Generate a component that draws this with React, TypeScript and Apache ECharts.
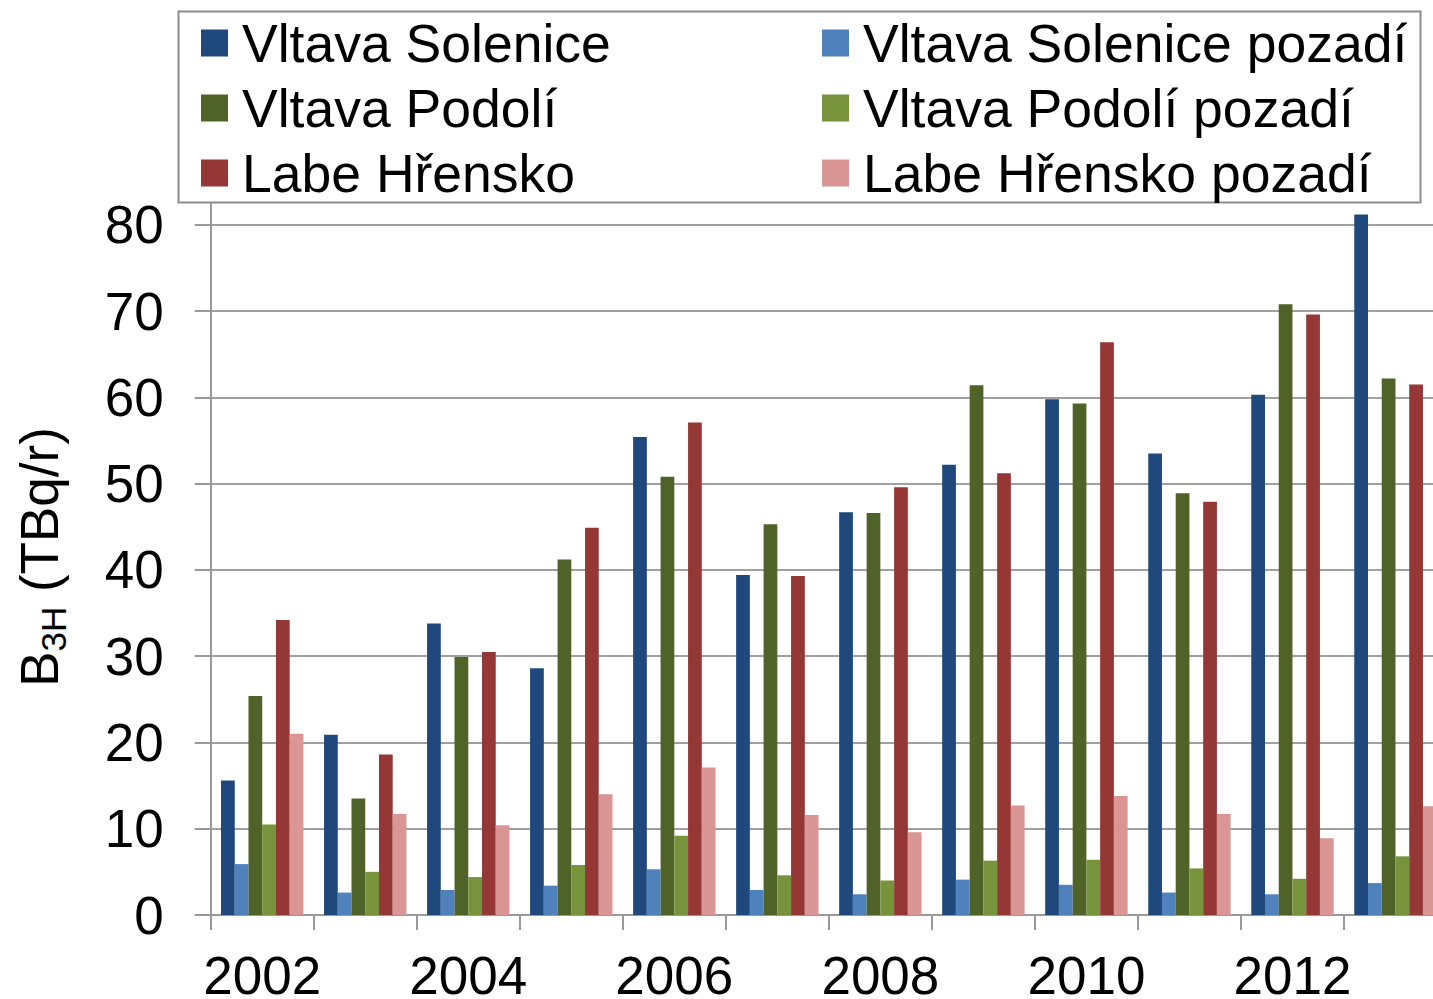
import React, { useEffect, useRef } from 'react';
import * as echarts from 'echarts';

const years = ['2002', '2003', '2004', '2005', '2006', '2007', '2008', '2009', '2010', '2011', '2012', '2013'];
const seriesNames = [
  'Vltava Solenice',
  'Vltava Solenice pozadí',
  'Vltava Podolí',
  'Vltava Podolí pozadí',
  'Labe Hřensko',
  'Labe Hřensko pozadí',
];
const solenice = [15.6, 20.9, 33.8, 28.6, 55.4, 39.4, 46.7, 52.2, 59.8, 53.5, 60.3, 81.2];
const solenicePozadi = [5.9, 2.6, 2.9, 3.4, 5.3, 2.9, 2.4, 4.1, 3.5, 2.6, 2.4, 3.7];
const podoli = [25.4, 13.5, 29.9, 41.2, 50.8, 45.3, 46.6, 61.4, 59.3, 48.9, 70.8, 62.2];
const podoliPozadi = [10.5, 5.0, 4.4, 5.8, 9.2, 4.6, 4.0, 6.3, 6.4, 5.4, 4.2, 6.8];
const hrensko = [34.2, 18.6, 30.5, 44.9, 57.1, 39.3, 49.6, 51.2, 66.4, 47.9, 69.6, 61.5];
const hrenskoPozadi = [21.0, 11.7, 10.4, 14.0, 17.1, 11.6, 9.6, 12.7, 13.8, 11.7, 8.9, 12.6];
const colors = ['#1F497D', '#4F81BD', '#4F6228', '#77933C', '#953735', '#D99694'];

export default function App() {
  const ref = useRef<HTMLDivElement>(null);
  useEffect(() => {
    const chart = echarts.init(ref.current!, null, { renderer: 'svg' });
    const font = "'Liberation Sans', Arial, sans-serif";
    const data = [solenice, solenicePozadi, podoli, podoliPozadi, hrensko, hrenskoPozadi];
    const legendCommon = {
      orient: 'vertical',
      icon: 'rect',
      itemWidth: 27,
      itemHeight: 27,
      itemGap: 11,
      top: 16,
      selectedMode: false,
      z: 20,
      padding: 0,
      textStyle: { fontSize: 53.5, lineHeight: 53, fontFamily: font, color: '#000', padding: [0, 0, 0, 9] },
    };
    const axisColor = '#999999';
    chart.setOption({
      animation: false,
      backgroundColor: '#ffffff',
      textStyle: { fontFamily: font },
      graphic: [
        {
          type: 'rect',
          z: 10,
          shape: { x: 178.5, y: 11.5, width: 1242, height: 191 },
          style: { fill: '#ffffff', stroke: '#8c8c8c', lineWidth: 2 },
        },
      ],
      legend: [
        { ...legendCommon, left: 201, data: [seriesNames[0], seriesNames[2], seriesNames[4]] },
        { ...legendCommon, left: 822, data: [seriesNames[1], seriesNames[3], seriesNames[5]] },
      ],
      grid: { left: 210.7, right: -14, top: 199, bottom: 84, containLabel: false, outerBoundsMode: 'none' },
      xAxis: {
        type: 'category',
        data: years,
        axisLine: { lineStyle: { color: axisColor, width: 2 } },
        axisTick: { show: true, length: 15, interval: 0, lineStyle: { color: axisColor, width: 2 } },
        axisLabel: { interval: 1, fontSize: 53, lineHeight: 40, color: '#000', margin: 40, fontFamily: font },
      },
      yAxis: {
        type: 'value',
        min: 0,
        max: 83,
        interval: 10,
        axisLine: { show: true, lineStyle: { color: axisColor, width: 2 } },
        axisTick: { show: true, length: 16, lineStyle: { color: axisColor, width: 2 } },
        axisLabel: {
          fontSize: 53,
          color: '#000',
          margin: 47,
          fontFamily: font,
          formatter: (v: number) => (v % 10 === 0 ? String(v) : ''),
        },
        splitLine: { show: true, showMaxLine: false, lineStyle: { color: '#a0a0a0', width: 2 } },
        name: '{b|B}{s|3H}{b| (TBq/r)}',
        nameLocation: 'middle',
        nameGap: 140,
        nameTextStyle: {
          color: '#000',
          rich: {
            b: { fontSize: 53, lineHeight: 62, fontFamily: font, color: '#000' },
            s: { fontSize: 35, lineHeight: 35, verticalAlign: 'bottom', fontFamily: font, color: '#000' },
          },
        },
      },
      series: seriesNames.map((n, i) => ({
        type: 'bar',
        name: n,
        data: data[i],
        barGap: '0%',
        barCategoryGap: '20%',
        itemStyle: { color: colors[i] },
      })),
    });
    return () => chart.dispose();
  }, []);
  return <div ref={ref} style={{ position: 'fixed', left: 0, top: 0, width: 1433, height: 999 }} />;
}
